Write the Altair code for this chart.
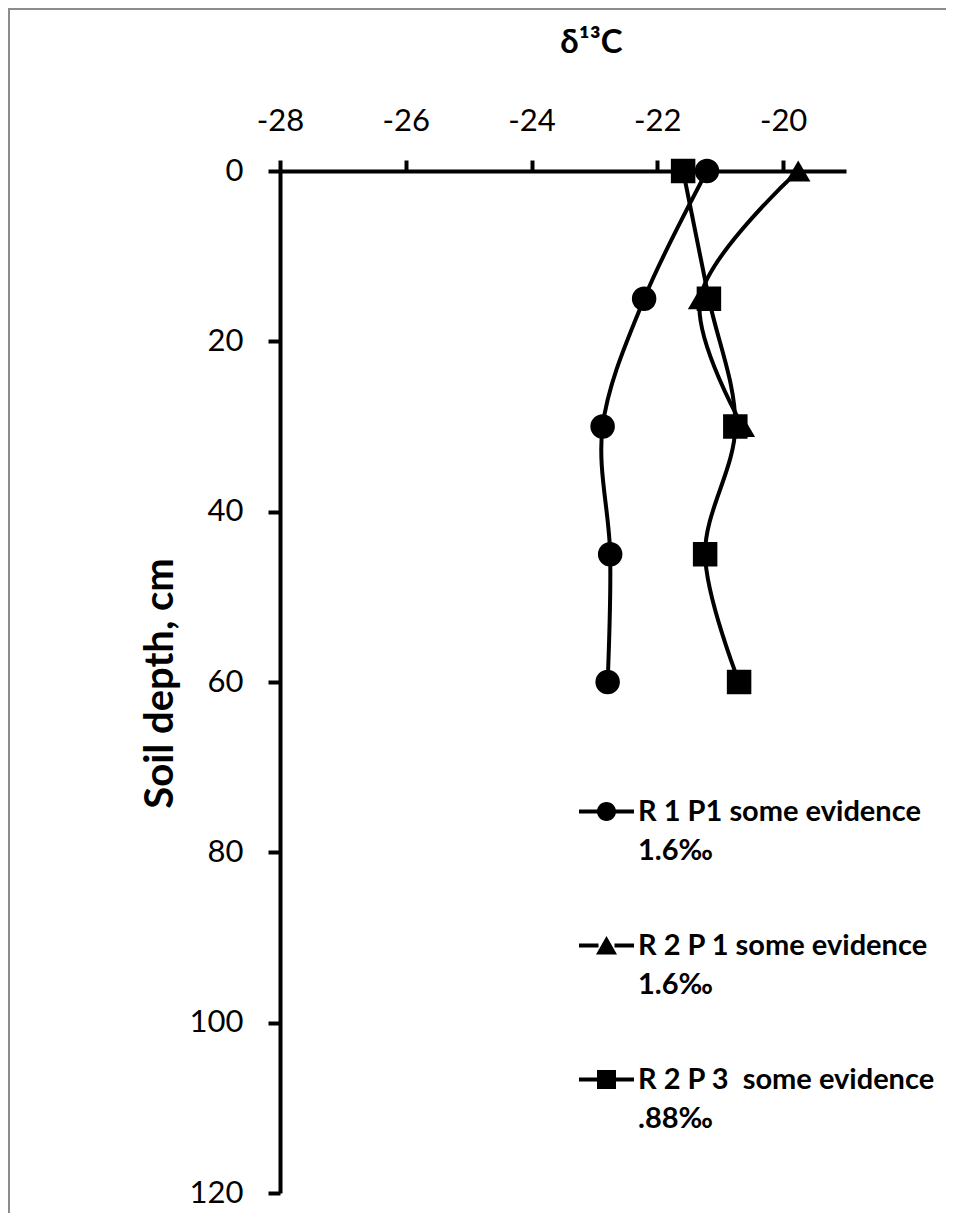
import altair as alt
import pandas as pd

# ---- data ----
depth = [0, 15, 30, 45, 60]
r1p1 = [-21.21, -22.21, -22.87, -22.75, -22.79]
r2p1_depth = [0, 15, 30]
r2p1 = [-19.76, -21.32, -20.64]
r2p3 = [-21.59, -21.18, -20.76, -21.24, -20.70]
series_names = [
    "R 1 P1 some evidence|1.6‰",
    "R 2 P 1 some evidence|1.6‰",
    "R 2 P 3\u00a0 some evidence|.88‰",
]
x_ticks = [-28, -26, -24, -22, -20]
y_ticks = [0, 20, 40, 60, 80, 100, 120]

rows = []
for d, v in zip(depth, r1p1):
    rows.append({"series": series_names[0], "depth": d, "d13c": v})
for d, v in zip(r2p1_depth, r2p1):
    rows.append({"series": series_names[1], "depth": d, "d13c": v})
for d, v in zip(depth, r2p3):
    rows.append({"series": series_names[2], "depth": d, "d13c": v})
df = pd.DataFrame(rows)

FONT = "Lato"

x_scale = alt.Scale(domain=[-28, -19], nice=False, zero=False)
y_scale = alt.Scale(domain=[0, 120], nice=False, zero=False, reverse=True)

x_axis = alt.Axis(
    orient="top", values=x_ticks, title="δ¹³C", grid=False,
    labelExpr="'' + datum.value", labelFlush=False, labelOverlap=False,
    domainColor="black", domainWidth=4, tickColor="black", tickWidth=4, tickSize=11,
    labelFont=FONT, labelFontSize=31, labelColor="black", labelPadding=23,
    titleFont=FONT, titleFontSize=33, titleFontWeight="bold", titleColor="black",
    titleX=311, titleY=-119, titleBaseline="alphabetic", titleAlign="center",
)
y_axis = alt.Axis(
    orient="left", values=y_ticks, title="Soil depth, cm", grid=False,
    labelFlush=False, labelOverlap=False,
    domainColor="black", domainWidth=4, tickColor="black", tickWidth=4, tickSize=12,
    labelFont=FONT, labelFontSize=31, labelColor="black", labelPadding=25,
    titleFont=FONT, titleFontSize=40, titleFontWeight="bold", titleColor="black",
    titleX=-120, titleY=512, titleBaseline="middle", titleAngle=270,
)

base = alt.Chart(df)

lines = base.mark_line(interpolate="catmull-rom", color="black", strokeWidth=4).encode(
    x=alt.X("d13c:Q", scale=x_scale, axis=x_axis),
    y=alt.Y("depth:Q", scale=y_scale, axis=y_axis),
    detail="series:N",
    order="depth:Q",
)

points = base.mark_point(filled=True, color="black", opacity=1, size=600).encode(
    x="d13c:Q",
    y="depth:Q",
    shape=alt.Shape(
        "series:N",
        scale=alt.Scale(domain=series_names, range=["circle", "triangle-up", "square"]),
        legend=None,
    ),
)

bar = "M-2.75,-0.2H-0.8V0.2H-2.75Z M0.8,-0.2H2.75V0.2H0.8Z "
legend_paths = [
    bar + "M-0.95,0A0.95,0.95 0 1,1 0.95,0A0.95,0.95 0 1,1 -0.95,0Z",
    bar + "M0,-0.95L1.05,0.9H-1.05Z",
    bar + "M-0.95,-0.95H0.95V0.95H-0.95Z",
]

legend_layer = base.mark_point(filled=True, color="black", opacity=1).encode(
    x="d13c:Q",
    y="depth:Q",
    shape=alt.Shape(
        "series:N",
        scale=alt.Scale(domain=series_names, range=legend_paths),
        legend=alt.Legend(
            title=None, orient="none", legendX=312, legendY=626,
            symbolSize=400, symbolStrokeWidth=0, symbolFillColor="black",
            symbolOpacity=1,
            labelExpr="split(datum.label, '|')",
            labelFont=FONT, labelFontSize=29, labelFontWeight="bold", labelColor="black",
            labelLimit=500, labelOffset=17, rowPadding=65, labelBaseline="middle",
        ),
    ),
).transform_filter("datum.depth < 0")

frame = pd.DataFrame({"k": [0]})
top_rule = alt.Chart(frame).mark_rule(color="#8c8c8c", strokeWidth=2).encode(
    x=alt.value(-272), x2=alt.value(669), y=alt.value(-162)
)
left_rule = alt.Chart(frame).mark_rule(color="#8c8c8c", strokeWidth=2).encode(
    x=alt.value(-271), y=alt.value(-163), y2=alt.value(1042)
)

chart = (
    alt.layer(top_rule, left_rule, lines, points, legend_layer)
    .resolve_scale(shape="independent")
    .properties(
        width=566, height=1022,
        autosize=alt.AutoSizeParams(type="none"),
        padding={"left": 272, "top": 163, "right": 100, "bottom": 20},
        background="white",
    )
    .configure(font=FONT, style={"guide-label": {"lineHeight": 39}})
    .configure_view(stroke=None)
)

chart.save("out.html", embed_options={"renderer": "svg", "actions": False})
